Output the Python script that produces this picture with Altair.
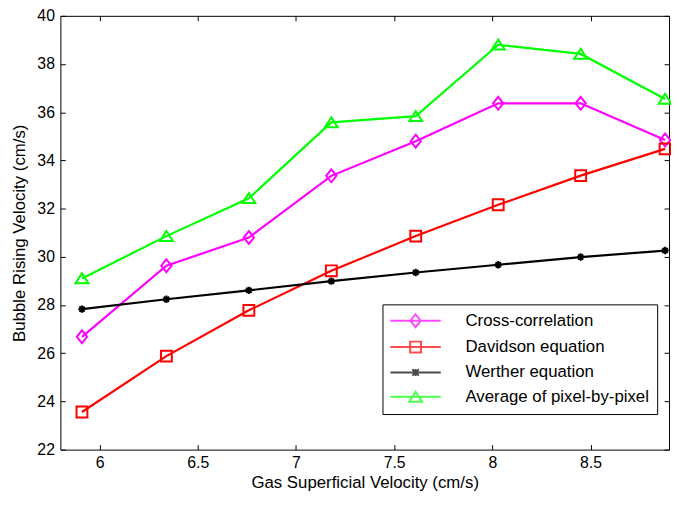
import altair as alt
import pandas as pd

names = ["Cross-correlation", "Davidson equation", "Werther equation", "Average of pixel-by-pixel"]
colors = ["#FF00FF", "#FF0000", "#000000", "#00FF00"]

x_vals = [5.91, 6.34, 6.76, 7.18, 7.61, 8.03, 8.45, 8.88]
cross = [26.68, 29.63, 30.8, 33.36, 34.8, 36.37, 36.37, 34.85]
davidson = [23.56, 25.88, 27.78, 29.42, 30.86, 32.16, 33.37, 34.48]
werther = [27.83, 28.24, 28.61, 28.99, 29.35, 29.67, 29.99, 30.26]
average = [29.1, 30.86, 32.43, 35.58, 35.84, 38.8, 38.42, 36.55]

x_ticks = [6, 6.5, 7, 7.5, 8, 8.5]
y_ticks = [22, 24, 26, 28, 30, 32, 34, 36, 38, 40]

marker_paths = [
    "M0,-1L0.8,0L0,1L-0.8,0Z",
    "M-1,-1H1V1H-1Z",
    "M-1,0H1M0,-1V1M-0.7,-0.7L0.7,0.7M-0.7,0.7L0.7,-0.7",
    "M0,-0.8L1,0.75L-1,0.75Z",
]
marker_sizes = [169, 121, 56, 169]
# legend symbols: a line with the marker in its middle (unit = 6.5 px)
legend_paths = [
    "M-3.923,0H3.923M0,-1L0.8,0L0,1L-0.8,0Z",
    "M-3.923,0H3.923M-0.846,-0.846H0.846V0.846H-0.846Z",
    "M-3.923,0H3.923M-0.5,-0.5L0.5,0.5M-0.5,0.5L0.5,-0.5M0,-0.55V0.55",
    "M-3.923,0H3.923M0,-0.8L1,0.75L-1,0.75Z",
]

rows = []
for name, vals in zip(names, [cross, davidson, werther, average]):
    for xv, yv in zip(x_vals, vals):
        rows.append({"series": name, "x": xv, "y": yv})
df = pd.DataFrame(rows)

W, H = 616, 439
FONT = "Liberation Sans"
xs = alt.Scale(domain=[5.8, 8.9], nice=False, zero=False)
ys = alt.Scale(domain=[22, 40], nice=False, zero=False)
cs = alt.Scale(domain=names, range=colors)

base = alt.Chart(df)

x_main = alt.X("x:Q", scale=xs,
               axis=alt.Axis(values=x_ticks, labelExpr="toString(datum.value)",
                             title="Gas Superficial Velocity (cm/s)",
                             offset=-5, tickSize=5, domain=False,
                             labelPadding=5, titlePadding=4))
y_main = alt.Y("y:Q", scale=ys,
               axis=alt.Axis(values=y_ticks, labelExpr="toString(datum.value)",
                             title="Bubble Rising Velocity (cm/s)",
                             offset=-5, tickSize=5, domain=False,
                             labelPadding=6, titlePadding=9))

series_layers = []
for i, (name, col, path, size) in enumerate(zip(names, colors, marker_paths, marker_sizes)):
    sub = base.transform_filter(alt.datum.series == name)
    if i == 0:
        ln = sub.mark_line(strokeWidth=2.2, color=col).encode(x=x_main, y=y_main)
    else:
        ln = sub.mark_line(strokeWidth=2.2, color=col).encode(x="x:Q", y="y:Q")
    pt = sub.mark_point(shape=path, size=size, color=col, strokeWidth=2,
                        filled=False, opacity=1).encode(x="x:Q", y="y:Q")
    series_layers += [ln, pt]

main = alt.layer(*series_layers)

leg_props = dict(
    title=None, orient="none", legendX=326, legendY=292, padding=8,
    strokeColor="black", fillColor="white",
    labelFont=FONT, labelFontSize=17, labelColor="black", labelLimit=300,
    labelOffset=42, symbolOffset=17,
    rowPadding=6.7, symbolStrokeWidth=2, symbolSize=169,
)
mirror = base.transform_filter("datum.x < 0").mark_point(
    strokeWidth=2, filled=False, size=169
).encode(
    x=alt.X("x:Q", scale=xs,
            axis=alt.Axis(orient="top", values=x_ticks, labelExpr="''", labelOpacity=0,
                          title=" ", offset=-5, tickSize=5, domain=False)),
    y=alt.Y("y:Q", scale=ys,
            axis=alt.Axis(orient="right", values=y_ticks, labelExpr="''", labelOpacity=0,
                          title=" ", offset=-5, tickSize=5, domain=False)),
    color=alt.Color("series:N", scale=cs, legend=alt.Legend(**leg_props)),
    shape=alt.Shape("series:N", scale=alt.Scale(domain=names, range=legend_paths),
                    legend=alt.Legend(**leg_props)),
)

chart = alt.layer(main, mirror).resolve_axis(x="independent", y="independent").properties(
    width=W, height=H,
    padding={"left": 53, "top": 5, "right": 2, "bottom": 44},
    autosize=alt.AutoSizeParams(type="none"),
    background="white",
).configure_view(
    stroke="black", strokeWidth=1
).configure_axis(
    grid=False, tickColor="black", tickWidth=1,
    labelFont=FONT, labelFontSize=16, labelColor="black",
    titleFont=FONT, titleFontSize=17, titleFontWeight="normal", titleColor="black",
)

chart.save("out.html", embed_options={"renderer": "svg", "actions": False})
